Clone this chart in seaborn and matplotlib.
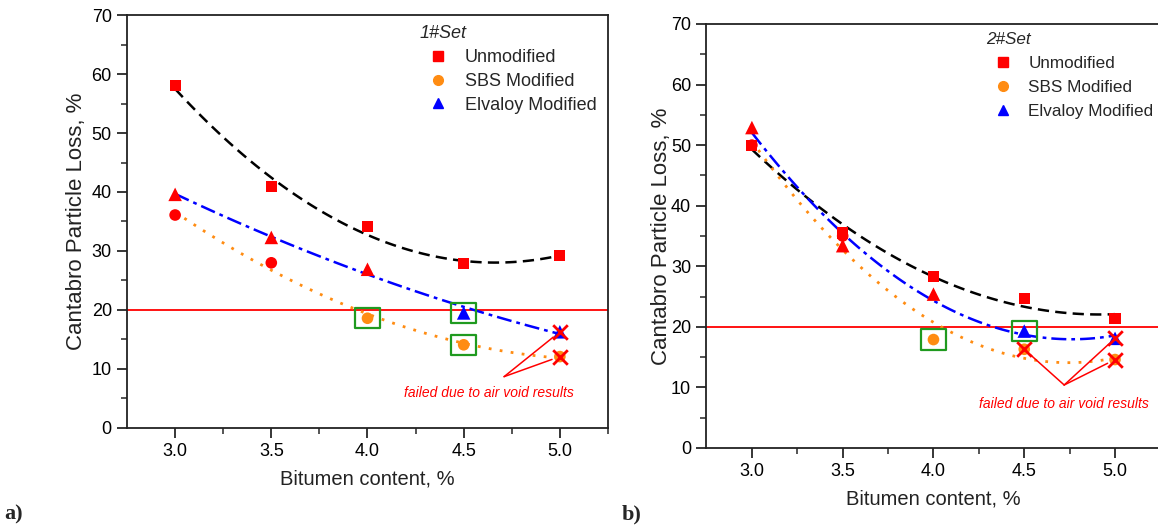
import numpy as np
import pandas as pd
import matplotlib
matplotlib.use('Agg')
import matplotlib.pyplot as plt
import seaborn as sns
from matplotlib.lines import Line2D
from matplotlib.path import Path

# Data
bitumen = [3.0, 3.5, 4.0, 4.5, 5.0]

unmod_1 = [58.0, 40.9, 34.2, 27.9, 29.2]
sbs_1 = [36.1, 28.0, 18.6, 14.1, 12.1]
elv_1 = [39.6, 32.3, 26.9, 19.5, 16.3]
sbs_fail_1 = [False, False, False, False, True]
elv_fail_1 = [False, False, False, False, True]

unmod_2 = [50.0, 35.5, 28.3, 24.7, 21.4]
sbs_2 = [50.0, 35.0, 17.9, 16.3, 14.6]
elv_2 = [52.9, 33.4, 25.4, 19.3, 18.1]
sbs_fail_2 = [False, False, False, True, True]
elv_fail_2 = [False, False, False, False, True]

limit = 20
series_names = ['Unmodified', 'SBS Modified', 'Elvaloy Modified']
set_titles = ['1#Set', '2#Set']
note = 'failed due to air void results'

RED = '#ff0000'
colors = {'Unmodified': RED, 'SBS Modified': '#ff8c12', 'Elvaloy Modified': '#0000ff'}
markers = {'Unmodified': 's', 'SBS Modified': 'o', 'Elvaloy Modified': '^'}
msize = {'Unmodified': 65, 'SBS Modified': 70, 'Elvaloy Modified': 95}
fits = {'Unmodified': dict(color='black', ls=(0, (4.5, 2.5)), lw=1.8),
        'SBS Modified': dict(color='#ff8c12', ls=(0, (1, 3)), lw=2.0),
        'Elvaloy Modified': dict(color='#0000ff', ls=(0, (6, 2, 1.5, 2)), lw=1.8)}

sns.set_style('ticks')
plt.rcParams['font.family'] = ['Liberation Sans', 'DejaVu Sans']

fig = plt.figure(figsize=(11.58, 5.25), dpi=100)
ax1 = fig.add_axes([0.1097, 0.1848, 0.4153, 0.7866])
ax2 = fig.add_axes([0.6101, 0.1467, 0.3920, 0.8076])

# green box marker (a bit wider than tall)
box = Path([(-1.25, -1), (1.25, -1), (1.25, 1), (-1.25, 1), (-1.25, -1)],
           [Path.MOVETO, Path.LINETO, Path.LINETO, Path.LINETO, Path.CLOSEPOLY])


def panel(ax, unmod, sbs, elv, sbs_fail, elv_fail, title, apex, text_pos,
          ylab_x, xlab_y, leg_anchor, leg_fs, leg_sp):
    df = pd.DataFrame({'x': bitumen * 3,
                       'y': unmod + sbs + elv,
                       'series': np.repeat(series_names, len(bitumen)),
                       'fail': [False] * 5 + sbs_fail + elv_fail})
    df['shade'] = np.where(df['y'] > limit, 'above', df['series'])
    pal = dict(colors)
    pal['above'] = RED

    ax.axhline(limit, color=RED, lw=1.3, zorder=1)

    for name in series_names:
        d = df[df['series'] == name]
        sns.regplot(data=d, x='x', y='y', order=2, ci=None, scatter=False,
                    truncate=True, ax=ax, line_kws=fits[name])
        sns.scatterplot(data=d, x='x', y='y', hue='shade', palette=pal,
                        marker=markers[name], s=msize[name], edgecolor='none',
                        legend=False, ax=ax, zorder=3)

    ok = df[(df['y'] < limit) & (~df['fail'])]
    sns.scatterplot(data=ok, x='x', y='y', marker=box, s=330, facecolor='none',
                    edgecolor='#1f9a1f', linewidth=1.6, legend=False, ax=ax, zorder=4)

    bad = df[df['fail']]
    sns.scatterplot(data=bad, x='x', y='y', marker='x', s=110, color=RED,
                    linewidth=2.0, legend=False, ax=ax, zorder=5)
    for _, r in bad.iterrows():
        ax.annotate('', xy=(r['x'], r['y']), xytext=apex,
                    arrowprops=dict(arrowstyle='-', color=RED, lw=1.1,
                                    shrinkA=0, shrinkB=6))
    ax.text(text_pos[0], text_pos[1], note, color=RED, fontsize=10,
            style='italic', ha='center', va='center')

    ax.set_xlim(2.75, 5.25)
    ax.set_ylim(0, 70)
    ax.set_xticks(bitumen)
    ax.set_xticklabels([f'{v:.1f}' for v in bitumen])
    ax.set_yticks(range(0, 71, 10))
    ax.set_xticks(np.arange(3.25, 5.3, 0.5), minor=True)
    ax.set_yticks(range(5, 70, 10), minor=True)
    ax.tick_params(which='major', direction='out', length=7, width=1.1,
                   labelsize=13, colors='black', pad=4)
    ax.tick_params(which='minor', direction='out', length=4, width=1.1)
    for sp in ax.spines.values():
        sp.set_visible(True)
        sp.set_color('#222222')
        sp.set_linewidth(1.3)
    ax.set_xlabel('Bitumen content, %', fontsize=14.5, color='#222222')
    ax.set_ylabel('Cantabro Particle Loss, %', fontsize=16, color='#222222')
    ax.yaxis.set_label_coords(ylab_x, 0.5)
    ax.xaxis.set_label_coords(0.5, xlab_y)

    handles = [Line2D([], [], ls='none', marker=markers[n], color=colors[n],
                      markersize=7) for n in series_names]
    leg = ax.legend(handles, series_names, title=title, loc='upper left',
                    bbox_to_anchor=leg_anchor, frameon=False, fontsize=leg_fs,
                    handletextpad=0.5, labelspacing=leg_sp, borderaxespad=0,
                    alignment='left')
    leg.get_title().set_fontsize(leg_fs)
    leg.get_title().set_style('italic')


panel(ax1, unmod_1, sbs_1, elv_1, sbs_fail_1, elv_fail_1, set_titles[0],
      (4.71, 8.7), (4.63, 5.9), -0.084, -0.10, (0.594, 0.993), 13, 0.38)
panel(ax2, unmod_2, sbs_2, elv_2, sbs_fail_2, elv_fail_2, set_titles[1],
      (4.72, 10.4), (4.72, 7.3), -0.077, -0.097, (0.600, 0.997), 12.3, 0.52)

fig.text(0.004, 0.01, 'a)', fontsize=16, fontweight='bold',
         family=['Liberation Serif', 'DejaVu Serif'])
fig.text(0.537, 0.01, 'b)', fontsize=16, fontweight='bold',
         family=['Liberation Serif', 'DejaVu Serif'])

fig.savefig('out.png', dpi=100)
